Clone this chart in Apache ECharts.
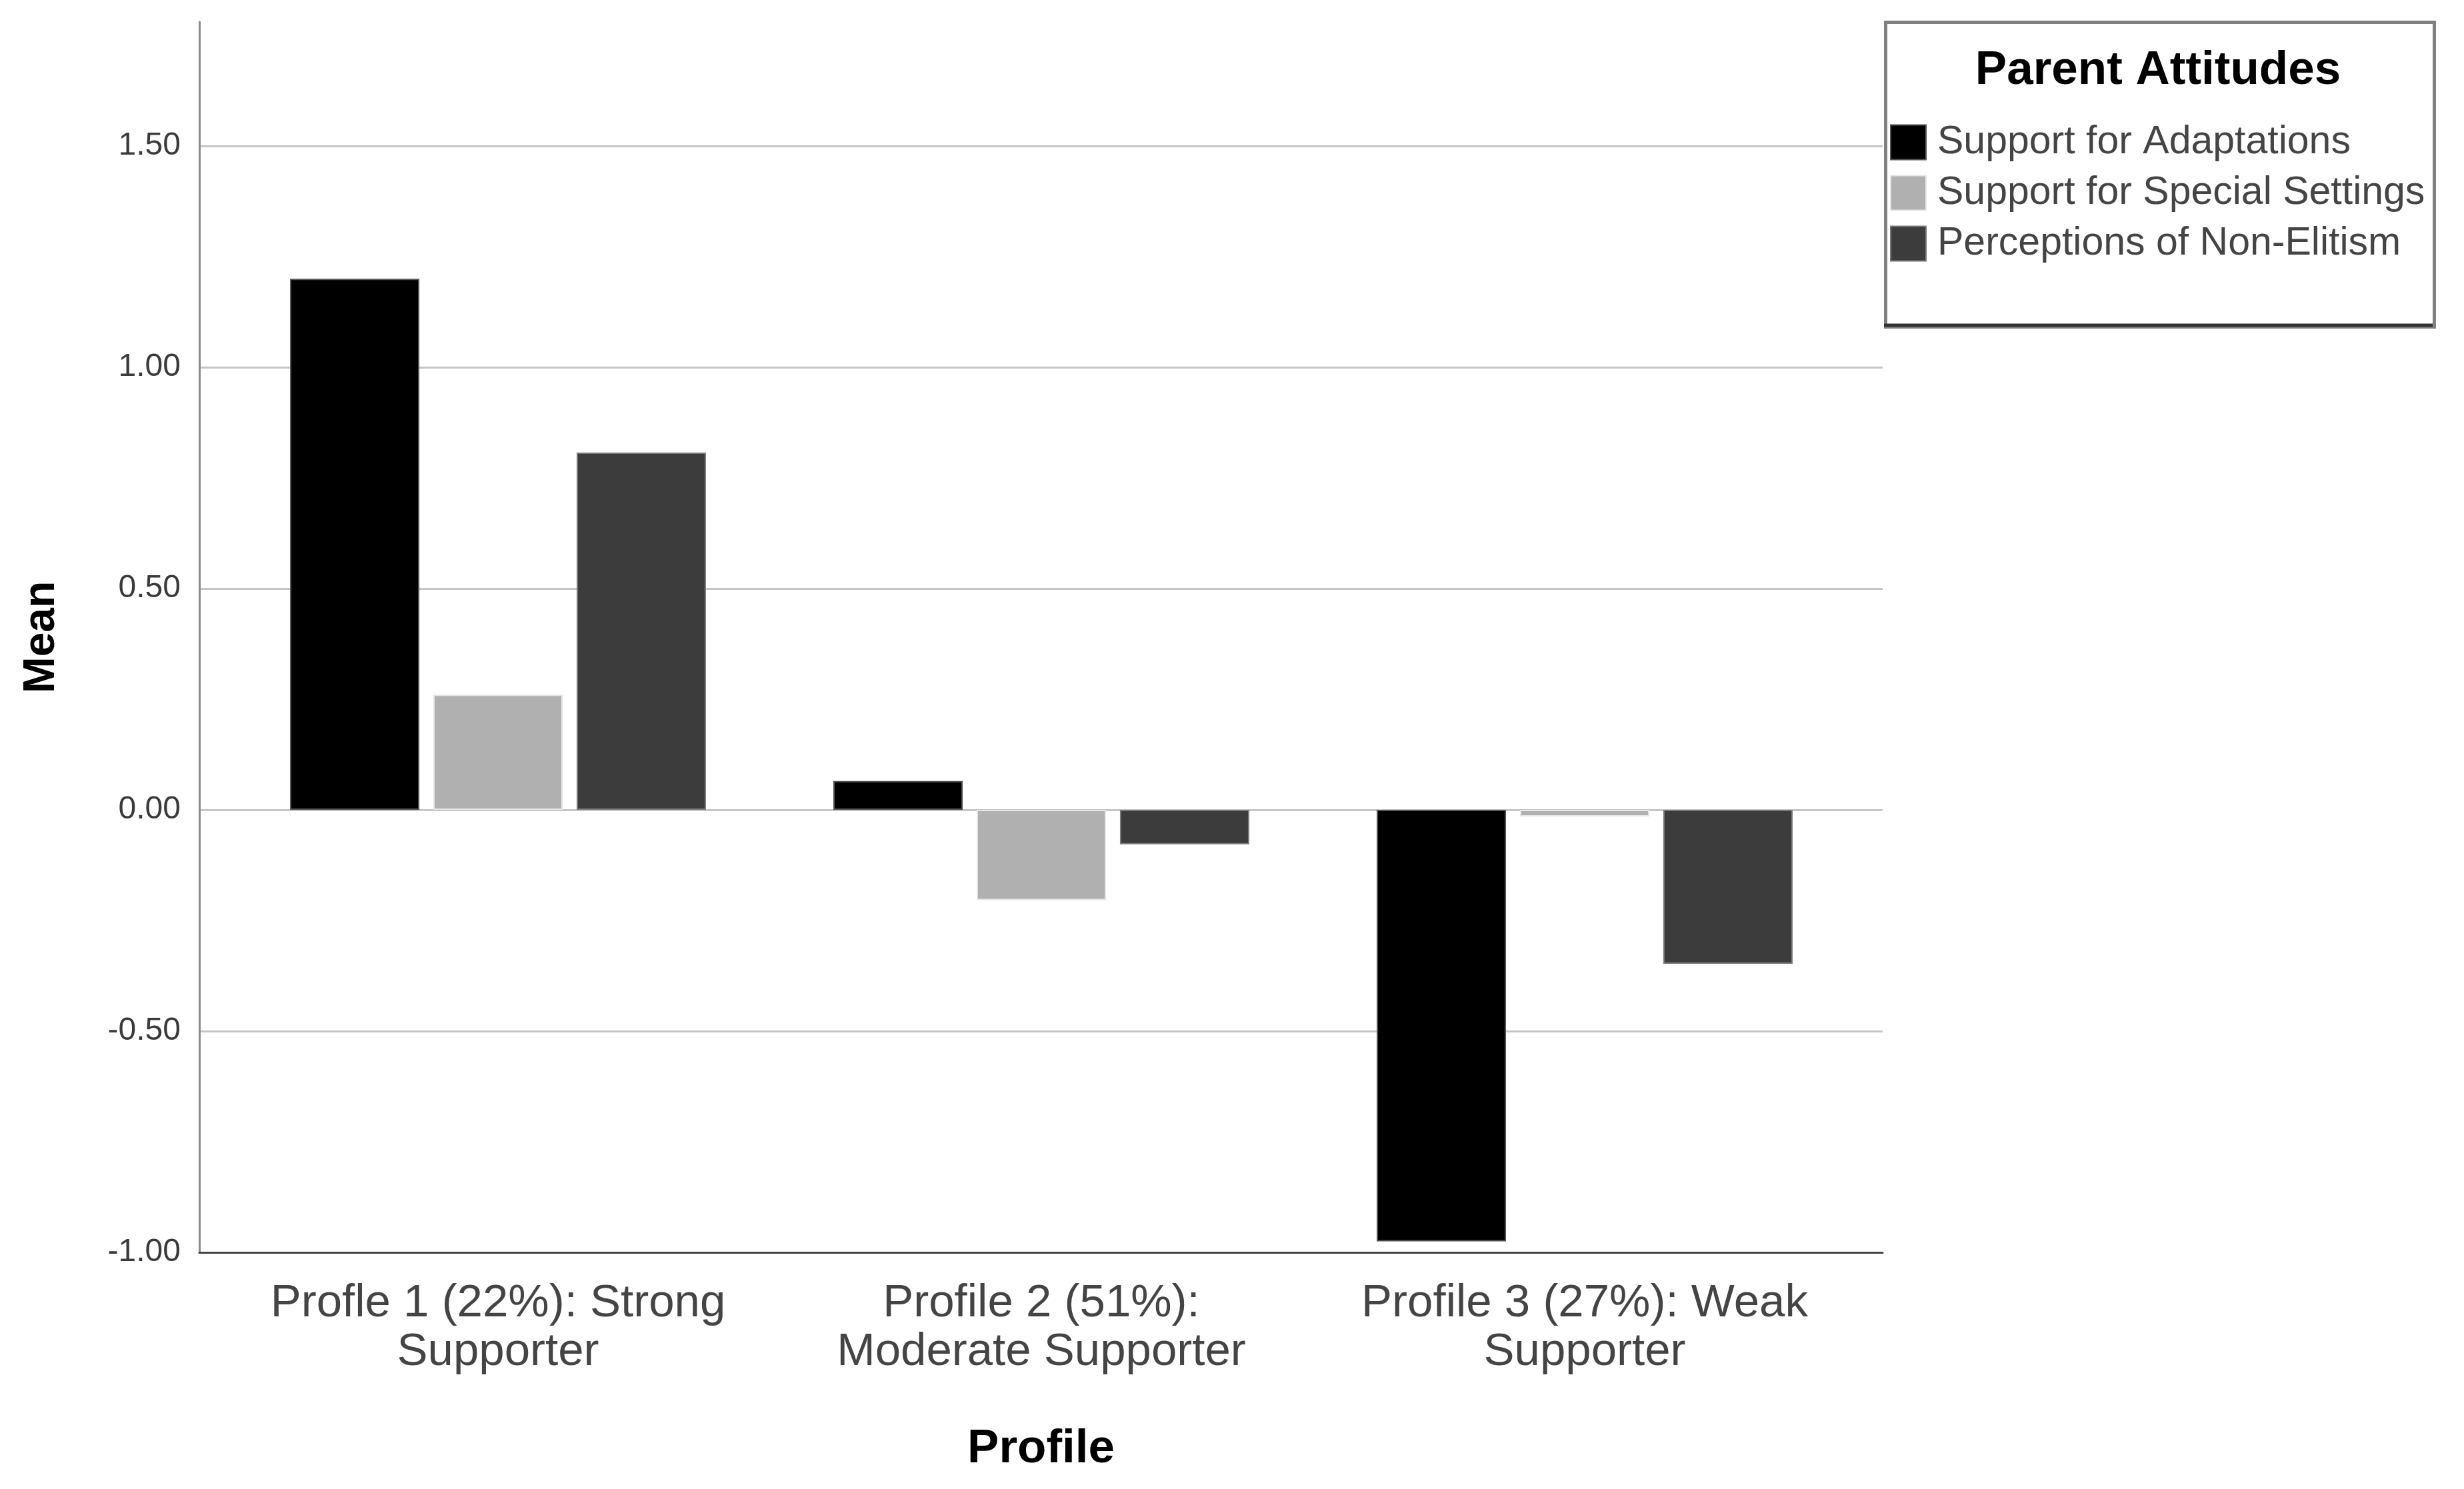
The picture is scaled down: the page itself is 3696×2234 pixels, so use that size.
<!DOCTYPE html>
<html>
<head>
<meta charset="utf-8">
<script src="https://cdn.jsdelivr.net/npm/echarts@6/dist/echarts.min.js"></script>
<style>
html,body{margin:0;padding:0;background:#fff;}
#chart{width:3696px;height:2234px;}
</style>
</head>
<body>
<div id="chart"></div>
<script>
const categories = [
  'Profle 1 (22%): Strong\nSupporter',
  'Profile 2 (51%):\nModerate Supporter',
  'Profile 3 (27%): Weak\nSupporter'
];
const seriesNames = ['Support for Adaptations', 'Support for Special Settings', 'Perceptions of Non-Elitism'];
const adaptations = [1.20, 0.065, -0.975];
const specialSettings = [0.26, -0.204, -0.015];
const nonElitism = [0.807, -0.078, -0.348];
const yTicks = { min: -1.0, max: 1.78, step: 0.5 };

const FONT = '"Liberation Sans", Arial, sans-serif';
const chart = echarts.init(document.getElementById('chart'), null, { renderer: 'canvas' });

const barColors = ['#000000', '#b0b0b0', '#3c3c3c'];
const barBorders = ['#555555', '#e6e6e6', '#7a7a7a'];
const values = [adaptations, specialSettings, nonElitism];

const option = {
  backgroundColor: '#ffffff',
  animation: false,
  textStyle: { fontFamily: FONT },
  grid: [
    { left: 299, right: 872, top: 33, bottom: 355, containLabel: false },
    { left: 339.5, right: 911.5, top: 33, bottom: 355, containLabel: false }
  ],
  xAxis: [
    {
      gridIndex: 0, type: 'category', data: [''],
      axisLine: { show: true, onZero: false, lineStyle: { color: '#444444', width: 3 } },
      axisTick: { show: false }, axisLabel: { show: false }, splitLine: { show: false },
      name: 'Profile', nameLocation: 'middle', nameGap: 260,
      nameTextStyle: { fontFamily: FONT, fontSize: 71, fontWeight: 'bold', color: '#000000' }
    },
    {
      gridIndex: 1, type: 'category', data: categories,
      axisLine: { show: false }, axisTick: { show: false }, splitLine: { show: false },
      axisLabel: { interval: 0, margin: 40, fontFamily: FONT, fontSize: 69, lineHeight: 73, color: '#444444', align: 'center' }
    }
  ],
  yAxis: [
    {
      gridIndex: 0, type: 'value', min: yTicks.min, max: yTicks.max, interval: yTicks.step,
      axisLine: { show: true, lineStyle: { color: '#8a8a8a', width: 3 } },
      axisTick: { show: false },
      axisLabel: { margin: 28, fontFamily: FONT, fontSize: 48, color: '#3a3a3a', showMaxLabel: false,
        formatter: v => v.toFixed(2) },
      splitLine: { show: true, showMaxLine: false, showMinLine: false, lineStyle: { color: '#c6c6c6', width: 3 } },
      name: 'Mean', nameLocation: 'middle', nameGap: 203, nameRotate: 90,
      nameTextStyle: { fontFamily: FONT, fontSize: 66, fontWeight: 'bold', color: '#000000' }
    },
    {
      gridIndex: 1, type: 'value', min: yTicks.min, max: yTicks.max, interval: yTicks.step,
      show: false, splitLine: { show: false }
    }
  ],
  legend: {
    orient: 'vertical', left: 2830, top: 179,
    itemWidth: 53, itemHeight: 52, itemGap: 17,
    icon: 'rect',
    data: seriesNames,
    textStyle: { fontFamily: FONT, fontSize: 59, color: '#444444', padding: [0, 0, 0, 12] }
  },
  graphic: [
    { type: 'rect', left: 2826, top: 31, shape: { width: 823, height: 457 },
      style: { fill: 'none', stroke: '#808080', lineWidth: 5 }, z: 1 },
    { type: 'line', shape: { x1: 2826, y1: 488, x2: 3649, y2: 488 },
      style: { stroke: '#333333', lineWidth: 5 }, z: 2 },
    { type: 'text', x: 3237, y: 106,
      style: { text: 'Parent Attitudes', fill: '#000000', font: 'bold 71px ' + FONT, textAlign: 'center', textVerticalAlign: 'middle' }, z: 3 }
  ],
  series: seriesNames.map((name, i) => ({
    name: name, type: 'bar', xAxisIndex: 1, yAxisIndex: 1,
    data: values[i], barWidth: 194, barGap: '10.8%',
    itemStyle: { color: barColors[i], borderColor: barBorders[i], borderWidth: 2 }
  }))
};
chart.setOption(option);
</script>
</body>
</html>
